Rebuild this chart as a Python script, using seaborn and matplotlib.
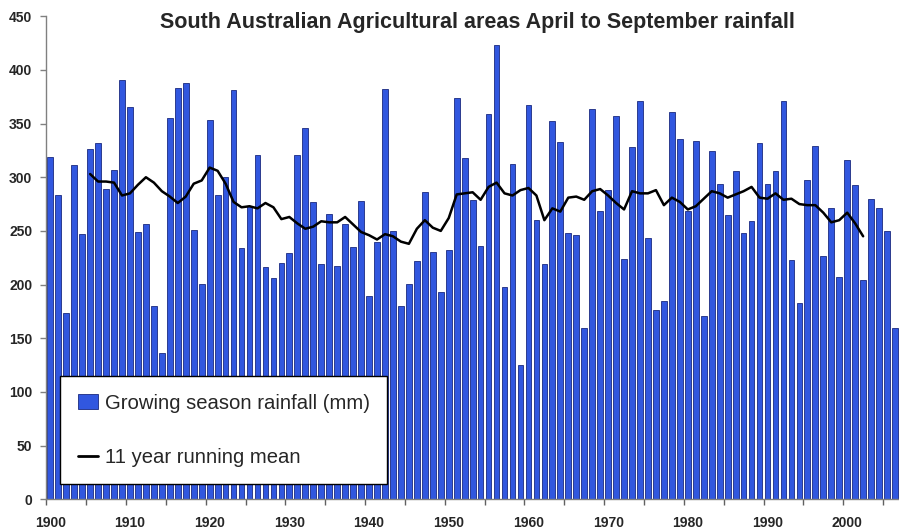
import numpy as np
import pandas as pd
import matplotlib
matplotlib.use("Agg")
import matplotlib.pyplot as plt
import seaborn as sns
from matplotlib.patches import Patch
from matplotlib.lines import Line2D

# Growing season (Apr-Sep) rainfall, mm, 1900-2006
years = list(range(1900, 2007))
rainfall = [
    319, 283, 174, 311, 247, 326, 332, 289, 307, 391,  # 1900s
    365, 249, 256, 180, 136, 355, 383, 388, 251, 201,  # 1910s
    353, 283, 300, 381, 234, 273, 321, 216, 206, 220,  # 1920s
    229, 321, 346, 277, 219, 266, 217, 256, 235, 278,  # 1930s
    189, 240, 382, 250, 180, 201, 222, 286, 230, 193,  # 1940s
    232, 374, 318, 279, 236, 359, 423, 198, 312, 125,  # 1950s
    367, 260, 219, 352, 333, 248, 246, 160, 364, 269,  # 1960s
    288, 357, 224, 328, 371, 243, 176, 185, 361, 336,  # 1970s
    269, 334, 171, 324, 294, 265, 306, 248, 259, 332,  # 1980s
    294, 306, 371, 223, 183, 297, 329, 227, 271, 207,  # 1990s
    316, 293, 204, 280, 271, 250, 160,                 # 2000s
]

# 11 year running mean as drawn, 1905-2002
mean_years = list(range(1905, 2003))
running_mean = [
    303, 296, 296, 295, 283,
    285, 293, 300, 295, 287, 282, 276, 282, 294, 297,
    309, 306, 294, 277, 272, 273, 271, 276, 272, 261,
    263, 257, 252, 254, 259, 258, 258, 263, 256, 249,
    246, 242, 247, 245, 240, 238, 252, 260, 253, 250,
    262, 284, 285, 286, 279, 291, 295, 285, 283, 288,
    290, 283, 260, 271, 268, 281, 282, 279, 287, 289,
    283, 276, 270, 287, 285, 285, 288, 274, 281, 277,
    270, 273, 280, 287, 285, 281, 284, 287, 291, 281,
    280, 285, 279, 280, 275, 274, 274, 267, 258, 260,
    267, 257, 245,
]

bars = pd.DataFrame({"year": years, "rain": rainfall})
smooth = pd.DataFrame({"year": mean_years, "mean": running_mean})

sns.set_style("white")
plt.rcParams["font.family"] = ["Liberation Sans", "DejaVu Sans"]

fig = plt.figure(figsize=(8.99, 5.32), dpi=100)
ax = fig.add_axes([0.0515, 0.0615, 0.9485, 0.908])

sns.barplot(data=bars, x="year", y="rain", native_scale=True, color="#3157df",
            saturation=1, width=0.72, edgecolor="#1a2a80", linewidth=0.6, ax=ax)
sns.lineplot(data=smooth, x="year", y="mean", color="black", linewidth=1.8, ax=ax)

ax.set_xlim(1899.5, 2006.5)
ax.set_ylim(0, 450)
ax.set_yticks(range(0, 451, 50))
ax.set_xticks(range(1900, 2001, 10))
ax.set_xticks([y - 0.5 for y in range(1900, 2006, 5)], minor=True)
ax.tick_params(axis="x", which="major", bottom=True, length=0, pad=12)
ax.tick_params(axis="x", which="minor", bottom=True, length=4, width=1,
               color="#606060", direction="out")
ax.tick_params(axis="y", left=True, length=4, width=1, color="#808080",
               direction="out", pad=6)
for lab in ax.get_xticklabels() + ax.get_yticklabels():
    lab.set_fontweight("bold")
    lab.set_fontsize(10)
ax.set_xlabel("")
ax.set_ylabel("")
sns.despine(ax=ax, top=True, right=True)
for s in ("left", "bottom"):
    ax.spines[s].set_color("#808080")
    ax.spines[s].set_linewidth(1)

fig.text(0.5306, 0.958, "South Australian Agricultural areas April to September rainfall",
         ha="center", va="center", fontsize=15.5, fontweight="bold")

handles = [Patch(facecolor="#3157df", edgecolor="#1a2a80", linewidth=0.6),
           Line2D([0], [0], color="black", linewidth=2)]
labels = ["Growing season rainfall (mm)", "11 year running mean"]
leg = ax.legend(handles, labels, loc="lower left", bbox_to_anchor=(0.0165, 0.031),
                frameon=True, fancybox=False, framealpha=1, edgecolor="black",
                fontsize=14.6, handlelength=1.0, handletextpad=0.35,
                labelspacing=1.75, borderpad=0.85, borderaxespad=0)
leg.get_frame().set_linewidth(1)

fig.savefig("out.png", dpi=100)
